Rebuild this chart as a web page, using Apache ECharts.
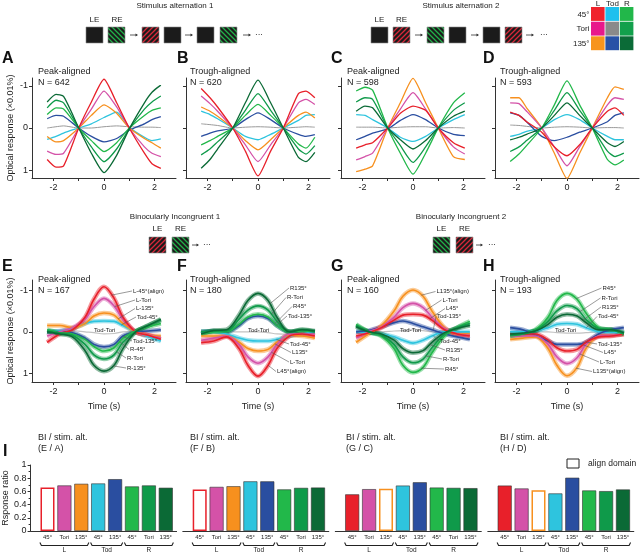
<!DOCTYPE html>
<html><head><meta charset="utf-8">
<script src="https://cdn.jsdelivr.net/npm/echarts@6/dist/echarts.min.js"></script>
<style>html,body{margin:0;padding:0;background:#fff}#c{width:640px;height:554px}</style>
</head><body><div id="c"></div>
<script>
const FONT = '"Liberation Sans", Arial, Helvetica, sans-serif';
// ---------------- DATA ----------------
const seriesKeys = ['L45','LTori','L135','Tod45','TodTori','Tod135','R45','RTori','R135'];
const seriesColors = ['#e8202a','#d452a8','#f7901e','#2ec4de','#999999','#2a4ea0','#22b84a','#0f9a4a','#0b6a36'];
const xTop  = [-2.25,-1.9,-1.6,-1,-0.5,0,0.5,1,1.6,1.9,2.25];
const xTopC = [-2.25,-1.9,-1.6,-1,-0.5,0,0.5,1,1.6,2.05];
const xMid  = [-2.25,-1.75,-1.25,-0.75,-0.4,0,0.4,0.75,1.25,1.75,2.25];
const panelTitles = ['Peak-aligned','Trough-aligned','Peak-aligned','Trough-aligned','Peak-aligned','Trough-aligned','Peak-aligned','Trough-aligned'];
const panelN = [642,620,598,593,167,180,160,193];
const panelLetters = ['A','B','C','D','E','F','G','H'];

const valuesA = [
 [0.75,0.93,0.9,0,-0.62,-1.16,-0.6,0,0.6,0.85,0.96],
 [0.55,0.63,0.6,0,-0.45,-0.88,-0.5,0,0.45,0.6,0.68],
 [0.2,0.33,0.3,0,-0.3,-0.55,-0.35,0,0.25,0.35,0.48],
 [0.27,0.2,0.12,0,-0.1,-0.25,-0.38,-0.02,0.22,0.3,0.26],
 [0,-0.03,-0.05,0,0,-0.03,-0.05,-0.03,-0.02,-0.02,-0.01],
 [-0.22,-0.3,-0.28,0,0.2,0.33,0.25,0.05,-0.1,-0.2,-0.27],
 [-0.32,-0.48,-0.45,0,0.3,0.56,0.35,0,-0.3,-0.42,-0.48],
 [-0.48,-0.66,-0.6,0,0.45,0.8,0.5,0.02,-0.45,-0.62,-0.76],
 [-0.62,-0.8,-0.75,0,0.6,1.06,0.65,0.02,-0.6,-0.85,-1.02]
];
const valuesB = [
 [-0.94,-0.72,-0.5,0,0.55,1.14,0.55,0,-0.82,-0.88,-0.72],
 [-0.76,-0.58,-0.4,0,0.4,0.8,0.4,0,-0.6,-0.68,-0.56],
 [-0.5,-0.4,-0.28,0,0.3,0.52,0.28,0,-0.3,-0.38,-0.24],
 [-0.4,-0.32,-0.22,0,0.2,0.28,0.15,0,-0.18,-0.3,-0.32],
 [-0.1,-0.08,-0.06,0,-0.02,-0.03,-0.02,0,-0.02,-0.03,-0.02],
 [0.2,0.12,0.07,0,-0.2,-0.36,-0.2,0,0.15,0.2,0.16],
 [0.4,0.3,0.2,0,-0.3,-0.56,-0.3,0,0.38,0.48,0.22],
 [0.64,0.5,0.33,0,-0.42,-0.82,-0.42,0,0.5,0.62,0.42],
 [0.96,0.75,0.5,0,-0.6,-1.14,-0.6,0,0.7,0.8,0.58]
];
const valuesC = [
 [0.48,0.4,0.35,0,-0.35,-0.52,-0.42,0,0.35,0.48],
 [0.76,0.68,0.6,0,-0.45,-0.84,-0.45,0,0.45,0.62],
 [1.04,0.98,0.9,0,-0.6,-1.18,-0.6,0,0.68,0.75],
 [-0.32,-0.3,-0.2,0,0.22,0.32,0.2,0,-0.2,-0.32],
 [-0.02,-0.02,-0.02,0,-0.02,-0.03,-0.03,0,-0.01,0],
 [0.28,0.2,0.12,0.02,-0.18,-0.32,-0.2,0,0.15,0.18],
 [-0.88,-0.97,-0.9,0,0.6,1.1,0.6,0,-0.6,-0.84],
 [-0.62,-0.72,-0.68,0,0.42,0.82,0.45,0,-0.42,-0.6],
 [-0.4,-0.52,-0.48,0,0.28,0.5,0.3,0,-0.28,-0.4]
];
const valuesD = [
 [-0.38,-0.3,-0.15,0.1,0.45,0.66,0.4,0,-0.4,-0.48,-0.3],
 [-0.6,-0.58,-0.4,0,0.45,0.9,0.45,0,-0.55,-0.72,-0.68],
 [-0.72,-0.72,-0.48,0,0.6,1.2,0.6,0,-0.72,-0.98,-0.92],
 [0.2,0.15,0.08,0,-0.2,-0.32,-0.2,0,0.2,0.28,0.28],
 [-0.07,-0.06,-0.04,0,-0.02,-0.03,-0.02,0,-0.01,-0.01,0],
 [-0.36,-0.3,-0.15,0.2,0.3,0.22,0.1,0,-0.15,-0.3,-0.36],
 [0.8,0.62,0.42,0,-0.55,-1.12,-0.55,0,0.75,0.88,0.76],
 [0.56,0.45,0.3,0,-0.42,-0.84,-0.42,0,0.55,0.68,0.6],
 [0.28,0.22,0.15,0,-0.3,-0.6,-0.3,0,0.35,0.44,0.32]
];
const valuesE = [
 [0.25,0.05,-0.05,-0.35,-0.78,-1.08,-0.8,-0.35,0.0,0.08,0.18],
 [0.1,0.0,-0.1,-0.3,-0.6,-0.8,-0.62,-0.3,0.0,0.08,0.14],
 [-0.15,-0.15,-0.1,-0.2,-0.38,-0.45,-0.4,-0.2,0.0,0.08,0.1],
 [0.0,-0.02,-0.08,-0.2,-0.25,-0.26,-0.25,-0.15,0.0,0.12,0.22],
 [0.0,-0.02,-0.03,0.0,0.02,0.05,0.04,0.0,-0.02,-0.02,-0.03],
 [0.0,0.0,0.02,0.15,0.3,0.36,0.3,0.1,0.0,-0.02,-0.05],
 [-0.05,0.02,0.05,0.18,0.35,0.46,0.38,0.15,-0.02,-0.12,-0.2],
 [-0.02,0.03,0.08,0.3,0.55,0.65,0.55,0.25,0.0,-0.15,-0.28],
 [0.0,0.05,0.12,0.45,0.8,0.94,0.8,0.4,0.0,-0.15,-0.3]
];
const valuesF = [
 [0.26,0.22,0.12,0.4,0.8,1.06,0.8,0.4,0.1,0.05,0.1],
 [0.2,0.15,0.1,0.3,0.6,0.75,0.6,0.3,0.05,0.05,0.05],
 [0.1,0.1,0.1,0.25,0.4,0.46,0.42,0.25,0.08,0.1,0.15],
 [0.0,0.0,0.05,0.15,0.2,0.22,0.22,0.18,0.1,0.05,0.0],
 [0.0,0.0,0.0,0.0,0.0,0.0,0.02,0.05,0.06,0.04,0.02],
 [0.0,-0.02,0.0,-0.15,-0.32,-0.38,-0.32,-0.15,0.0,-0.02,0.0],
 [0.05,0.0,0.0,-0.18,-0.35,-0.42,-0.35,-0.15,0.0,-0.02,0.0],
 [0.0,-0.02,-0.02,-0.3,-0.52,-0.62,-0.52,-0.25,0.0,-0.05,0.0],
 [0.05,-0.03,-0.05,-0.4,-0.75,-0.92,-0.75,-0.35,0.0,-0.05,-0.02]
];
const valuesG = [
 [0.1,0.02,-0.1,-0.28,-0.4,-0.42,-0.4,-0.28,-0.05,0.05,0.1],
 [0.15,0.0,-0.12,-0.35,-0.58,-0.68,-0.58,-0.35,-0.08,0.05,0.08],
 [0.25,0.05,-0.15,-0.5,-0.85,-1.0,-0.85,-0.5,-0.1,0.05,0.05],
 [0.0,0.02,0.05,0.12,0.2,0.27,0.2,0.1,0.0,0.0,0.0],
 [0.0,0.0,0.0,-0.02,-0.03,-0.05,-0.03,0.0,0.0,0.0,0.02],
 [0.0,-0.03,-0.12,-0.22,-0.26,-0.2,-0.12,-0.05,0.05,0.12,0.18],
 [-0.18,0.0,0.1,0.4,0.8,0.97,0.85,0.5,0.1,-0.1,-0.25],
 [-0.15,0.0,0.08,0.3,0.6,0.74,0.65,0.38,0.05,-0.1,-0.2],
 [-0.12,0.0,0.05,0.2,0.4,0.5,0.45,0.25,0.02,-0.08,-0.15]
];
const valuesH = [
 [0.05,0.05,0.05,0.2,0.38,0.46,0.42,0.25,0.12,0.1,0.05],
 [0.1,0.1,0.1,0.3,0.6,0.76,0.62,0.3,0.1,0.08,0.05],
 [0.18,0.15,0.12,0.4,0.8,1.05,0.85,0.4,0.1,0.08,0.05],
 [0.0,0.0,-0.02,-0.1,-0.18,-0.2,-0.18,-0.1,0.0,0.02,0.02],
 [0.0,0.0,0.0,0.0,0.02,0.03,0.03,0.02,0.0,0.0,0.0],
 [-0.1,-0.05,0.08,0.22,0.3,0.3,0.3,0.25,0.05,-0.05,-0.1],
 [0.1,0.05,-0.05,-0.35,-0.75,-0.92,-0.78,-0.45,-0.1,-0.05,0.05],
 [0.08,0.05,-0.03,-0.25,-0.5,-0.63,-0.55,-0.3,-0.08,-0.05,0.05],
 [0.05,0.03,-0.02,-0.18,-0.35,-0.42,-0.38,-0.22,-0.05,-0.05,0.02]
];

// bar chart (panel I)
const barCats = ['45°','Tori','135°','45°','135°','45°','Tori','135°'];
const barKeyIdx = [0,1,2,3,5,6,7,8];
const barGroups = ['L','Tod','R'];
const ratioEA = [0.66,0.69,0.715,0.72,0.785,0.675,0.69,0.655];
const ratioFB = [0.63,0.668,0.678,0.752,0.752,0.63,0.653,0.658];
const ratioGC = [0.555,0.634,0.639,0.688,0.738,0.658,0.653,0.649];
const ratioHD = [0.688,0.644,0.619,0.569,0.807,0.614,0.604,0.629];
const ratioTitles = ['(E / A)','(F / B)','(G / C)','(H / D)'];
const alignIdx = [0,0,2,2];

// ---------------- LAYOUT ----------------
const linePanels = [
 {x:xTop, v:valuesA},{x:xTop, v:valuesB},{x:xTopC, v:valuesC},{x:xTop, v:valuesD},
 {x:xMid, v:valuesE},{x:xMid, v:valuesF},{x:xMid, v:valuesG},{x:xMid, v:valuesH}
];
const colLeft = [32,186,341,495];
const barLeft = [30.6,182.8,335.3,487.8];
const ratios = [ratioEA, ratioFB, ratioGC, ratioHD];

const grids=[], xAxes=[], yAxes=[], series=[];
const axisCol = '#333';
linePanels.forEach((p,pi)=>{
  const row = pi<4?0:1, col = pi%4;
  grids.push({left:colLeft[col], top: row?280:78, width:144, height: row?102:100});
  xAxes.push({type:'value', gridIndex:pi, min:-2.85, max:2.85,
    axisLine:{show:true,onZero:false,lineStyle:{color:axisCol,width:1}},
    axisTick:{show:true,customValues:[-2,-1,0,1,2],length:3,lineStyle:{color:axisCol}},
    axisLabel:{show:true,customValues:[-2,0,2],fontSize:9,color:'#222',margin:5,fontFamily:FONT},
    splitLine:{show:false},
    name: row? 'Time (s)':'', nameLocation:'middle', nameGap:20,
    nameTextStyle:{fontSize:9,color:'#222',fontFamily:FONT}});
  yAxes.push({type:'value', gridIndex:pi, inverse:true, min: row?-1.24:-1.19, max: row?1.2:1.19,
    axisLine:{show:true,onZero:false,lineStyle:{color:axisCol,width:1}},
    axisTick:{show:true,customValues:[-1,0,1],length:3,lineStyle:{color:axisCol}},
    axisLabel:{show:col===0,customValues:[-1,0,1],fontSize:9,color:'#222',margin:4,fontFamily:FONT},
    splitLine:{show:false},
    name: col===0?'Optical response (×0.01%)':'', nameLocation:'middle', nameGap:17, nameRotate:90,
    nameTextStyle:{fontSize:9,color:'#222',fontFamily:FONT}});
  const order = [4,3,5,2,1,0,6,7,8];
  order.forEach(k=>{
    const data = p.x.map((xv,i)=>[xv, p.v[k][i]]);
    if(row===0){
      series.push({type:'line', xAxisIndex:pi, yAxisIndex:pi, data, symbol:'none', silent:true,
        smooth:0.2,
        lineStyle:{color:seriesColors[k], width: k===4?1:1.3}, z:2});
    } else {
      series.push({type:'line', xAxisIndex:pi, yAxisIndex:pi, data, symbol:'none', smooth:0.35, silent:true,
        lineStyle:{color:seriesColors[k], width: k===4?1.2:4.5, opacity: k===4?0.6:0.45}, z:2});
      if(k!==4) series.push({type:'line', xAxisIndex:pi, yAxisIndex:pi, data, symbol:'none', smooth:0.35, silent:true,
        lineStyle:{color:seriesColors[k], width:1.6}, z:3});
    }
  });
});
ratios.forEach((r,bi)=>{
  const gi = 8+bi;
  grids.push({left:barLeft[bi], top:465, width:146, height:66});
  xAxes.push({type:'value', gridIndex:gi, min:0, max:8.64,
    axisLine:{show:true,onZero:false,lineStyle:{color:axisCol,width:1}},
    axisTick:{show:false},
    axisLabel:{show:true,customValues:[1,2,3,4,5,6,7,8],formatter:v=>barCats[Math.round(v)-1],fontSize:6,color:'#222',margin:3,fontFamily:FONT},
    splitLine:{show:false}});
  yAxes.push({type:'value', gridIndex:gi, min:0, max:1, interval:0.2, show: bi===0,
    axisLine:{show:true,lineStyle:{color:axisCol,width:1}},
    axisTick:{show:true,length:3,lineStyle:{color:axisCol}},
    minorTick:{show:true,splitNumber:2,length:2,lineStyle:{color:axisCol}},
    axisLabel:{fontSize:9,color:'#222',margin:4,fontFamily:FONT,formatter:v=>String(+v.toFixed(1))},
    splitLine:{show:false},
    name:'Rsponse ratio', nameLocation:'middle', nameGap:19, nameRotate:90,
    nameTextStyle:{fontSize:9,color:'#222',fontFamily:FONT}});
  series.push({type:'bar', xAxisIndex:gi, yAxisIndex:gi, barWidth:14, silent:true,
    data: r.map((v,i)=>{
      const col = seriesColors[barKeyIdx[i]];
      if(i===alignIdx[bi]) return {value:[i+1,v], itemStyle:{color:'#fff',borderColor:col,borderWidth:1.5}};
      return {value:[i+1,v], itemStyle:{color:col,borderColor:'#333',borderWidth:0.6}};
    })});
});

const chart = echarts.init(document.getElementById('c'), null, {renderer:'canvas'});
chart.setOption({animation:false, grid:grids, xAxis:xAxes, yAxis:yAxes, series});

// ---------------- GRAPHIC ANNOTATIONS ----------------
function stripes(color, dir){
  const c=document.createElement('canvas'); c.width=c.height=5;
  const g=c.getContext('2d'); g.fillStyle='#1b1b1b'; g.fillRect(0,0,5,5);
  g.strokeStyle=color; g.lineWidth=1.3; g.beginPath();
  if(dir>0){ g.moveTo(0,5); g.lineTo(5,0); g.moveTo(-1,1); g.lineTo(1,-1); g.moveTo(4,6); g.lineTo(6,4); }
  else { g.moveTo(0,0); g.lineTo(5,5); g.moveTo(4,-1); g.lineTo(6,1); g.moveTo(-1,4); g.lineTo(1,6); }
  g.stroke(); return c;
}
const patRed = {image:stripes('#d8283a',1), repeat:'repeat'};
const patGreen = {image:stripes('#22b04a',-1), repeat:'repeat'};
const gfx = [];
function txt(t,x,y,size,opt){ opt=opt||{};
  gfx.push({type:'text', silent:true, z:50, style:{text:t, x, y, fill:opt.fill||'#222',
    font:(opt.bold?'bold ':'')+size+'px '+FONT, align:opt.align||'left', verticalAlign:'middle'}}); }
function sq(x,y,kind){
  const fill = kind==='k' ? '#1b1b1b' : (kind==='r'?patRed:patGreen);
  gfx.push({type:'rect', silent:true, shape:{x,y,width:17,height:16}, style:{fill, stroke:'#8a8a8a', lineWidth:0.6}});
}
function arrow(x1,x2,y){
  gfx.push({type:'line', silent:true, shape:{x1,y1:y,x2:x2-1,y2:y}, style:{stroke:'#333',lineWidth:0.8}});
  gfx.push({type:'polygon', silent:true, shape:{points:[[x2,y],[x2-2.5,y-1.5],[x2-2.5,y+1.5]]}, style:{fill:'#333'}});
}
// stimulus diagrams
txt('Stimulus alternation 1',175,6,8,{align:'center'});
txt('LE',94.5,20,8,{align:'center'}); txt('RE',117,20,8,{align:'center'});
[[86,'k'],[108,'g'],[142,'r'],[164,'k'],[197,'k'],[220,'g']].forEach(s=>sq(s[0],27,s[1]));
arrow(130,138,35); arrow(185,193,35); arrow(243,251,35); txt('···',255,35,8);
txt('Stimulus alternation 2',461,6,8,{align:'center'});
txt('LE',379.5,20,8,{align:'center'}); txt('RE',401.5,20,8,{align:'center'});
[[371,'k'],[393,'r'],[427,'g'],[449,'k'],[483,'k'],[505,'r']].forEach(s=>sq(s[0],27,s[1]));
arrow(415,423,35); arrow(471,479,35); arrow(526,534,35); txt('···',540,35,8);
txt('Binocularly Incongruent 1',175,217,8,{align:'center'});
txt('LE',157.5,229,8,{align:'center'}); txt('RE',180.5,229,8,{align:'center'});
sq(149,237,'r'); sq(172,237,'g'); arrow(192,199,245); txt('···',203,245,8);
txt('Binocularly Incongruent 2',461,217,8,{align:'center'});
txt('LE',441.5,229,8,{align:'center'}); txt('RE',464.5,229,8,{align:'center'});
sq(433,237,'g'); sq(456,237,'r'); arrow(476,483,245); txt('···',488,245,8);
// colour key
const keyColors = [['#f0222c','#1ec0ee','#22b74a'],['#e8198b','#8a8a8a','#12a04c'],['#f7941d','#2852a6','#0b6b37']];
const keyRowY = [7,21.7,36.3];
keyColors.forEach((row,ri)=>row.forEach((c,ci)=>{
  gfx.push({type:'rect', silent:true, shape:{x:591+ci*14.4, y:keyRowY[ri], width:13.6, height:13.9}, style:{fill:c}});
}));
txt('L',598,3.5,8,{align:'center'}); txt('Tod',612.5,3.5,8,{align:'center'}); txt('R',627,3.5,8,{align:'center'});
txt('45°',589.5,14.5,8,{align:'right'}); txt('Tori',589.5,29,8,{align:'right'}); txt('135°',589.5,43.5,8,{align:'right'});
// panel letters & titles
const letterX = [2,177,331,483];
panelLetters.forEach((L,i)=>{
  const row = i<4?0:1, col=i%4;
  txt(L, letterX[col], row?266.5:59, 16, {bold:true, fill:'#111'});
  const tx = [38,190,347,500][col];
  txt(panelTitles[i], tx, row?280:72, 9);
  txt('N = '+panelN[i], tx, row?290.5:82.5, 9);
});
txt('I',3,452,16,{bold:true, fill:'#111'});
ratioTitles.forEach((t,i)=>{ const x=[38,190,346,500][i]; txt('BI / stim. alt.',x,438,9); txt(t,x,449,9); });
gfx.push({type:'rect', silent:true, shape:{x:567,y:459,width:12,height:9}, style:{fill:'#fff',stroke:'#222',lineWidth:1}});
txt('align domain',588,463.5,8.5);

// curve labels with leader lines (middle row)
const curveLabels = [
 [4,[['L-45°(align)',133,291,0,0.29],['L-Tori',136,300,1,0.42],['L-135°',136,308.5,2,0.56],['Tod-45°',137,317,3,0.69],['Tod-Tori',94,330.5,4,null],['Tod-135°',133,341,5,0.75],['R-45°',130,349.5,6,0.62],['R-Tori',127,358,7,0.49],['R-135°',127,368,8,0.36]]],
 [5,[['R135°',290,288,8,0.47],['R-Tori',287,297.5,7,0.53],['R45°',293,306.5,6,0.67],['Tod-135°',288,316,5,0.73],['Tod-Tori',248,330.5,4,null],['Tod-45°',290,344,3,0.73],['L135°',292,352.5,2,0.67],['L-Tori',290,362,1,0.53],['L45°(align)',277,371.5,0,0.4]]],
 [6,[['L135°(align)',436.5,291.5,2,0.33],['L-Tori',442.5,300,1,0.5],['L45°',446,308.5,0,0.66],['Tod-135°',437,316.5,5,0.8],['Tod-Tori',400,330.5,4,null],['Tod-45°',440,341.5,3,0.8],['R135°',446,350,8,0.66],['R-Tori',443,359,7,0.5],['R45°',445,369,6,0.33]]],
 [7,[['R45°',602.5,288,6,0.36],['R-Tori',601.5,298,7,0.5],['R135°',602,307,8,0.63],['Tod-45°',598,316.5,3,0.76],['Tod-Tori',555,330.5,4,null],['Tod-135°',598,344,5,0.76],['L45°',604,352.5,0,0.63],['L-Tori',600,362,1,0.5],['L135°(align)',593,371.5,2,0.36]]]
];
function interp(xs,ys,x){ for(let i=0;i<xs.length-1;i++){ if(x>=xs[i]&&x<=xs[i+1]){ const t=(x-xs[i])/(xs[i+1]-xs[i]); return ys[i]+t*(ys[i+1]-ys[i]); } } return ys[ys.length-1]; }
curveLabels.forEach(([gi,list])=>{
  const p = linePanels[gi];
  list.forEach(([t,x,y,k,tx])=>{
    if(tx!==null){
      const pt = chart.convertToPixel({gridIndex:gi},[tx, interp(p.x,p.v[k],tx)]);
      gfx.push({type:'line', silent:true, z:49, shape:{x1:pt[0],y1:pt[1],x2:x-1,y2:y}, style:{stroke:'#555',lineWidth:0.6}});
    }
    txt(t,x,y,6);
  });
});
// group brackets under bars
const groupSpan = [[0.55,3.45],[3.55,5.45],[5.55,8.45]];
ratios.forEach((r,bi)=>{
  const gi=8+bi;
  groupSpan.forEach((s,gk)=>{
    const a = chart.convertToPixel({gridIndex:gi},[s[0],0])[0];
    const b = chart.convertToPixel({gridIndex:gi},[s[1],0])[0];
    gfx.push({type:'polyline', silent:true, shape:{points:[[a,542.5],[a+1.5,545.5],[b-1.5,545.5],[b,542.5]]}, style:{stroke:'#222',lineWidth:1.1,fill:null}});
    txt(barGroups[gk],(a+b)/2,550,6.5,{align:'center'});
  });
});
chart.setOption({graphic:{elements:gfx}});
</script></body></html>
